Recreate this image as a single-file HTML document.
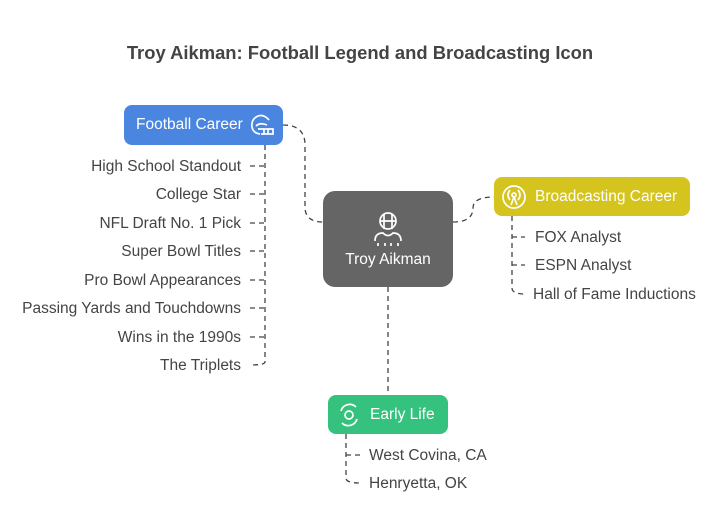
<!DOCTYPE html>
<html><head><style>
body{margin:0;width:720px;height:531px;background:#fff;font-family:"Liberation Sans",sans-serif;position:relative;overflow:hidden}
.t{position:absolute;font-size:15.5px;color:#444;white-space:nowrap;line-height:18px}
.r{text-align:right;width:300px}
.box{position:absolute;border-radius:8px;color:#fff;font-size:15.5px;display:flex;align-items:center}
</style></head><body>
<div style="position:absolute;top:42px;width:720px;text-align:center;font-weight:bold;font-size:18.4px;color:#444">Troy Aikman: Football Legend and Broadcasting Icon</div>
<svg width="720" height="531" style="position:absolute;left:0;top:0" fill="none" stroke="#444" stroke-width="1.3" stroke-dasharray="5,4">
<path d="M283 125 Q305 125 305 145 L305 207 Q305 222 323 222"/>
<path d="M453 222 Q473 222 473 208 Q473 197 494 197"/>
<path d="M388 287 L388 395"/>
<path d="M265 145 L265 362 Q265 365 250 365"/>
<path d="M250 166 H265 M250 194 H265 M250 223 H265 M250 251 H265 M250 280 H265 M250 308 H265 M250 337 H265"/>
<path d="M512 216 L512 288 Q512 294 525 294"/>
<path d="M512 237 H525 M512 265 H525"/>
<path d="M346 434 L346 478 Q346 483 360 483"/>
<path d="M346 455 H360"/>
</svg>
<div class="box" style="left:124px;top:105px;width:159px;height:40px;background:#4a86e0;"><span style="margin-left:12px">Football Career</span>
<svg width="28" height="26" style="margin-left:5px" fill="none" stroke="#fff" stroke-width="1.7"><path d="M21 8 Q16 2 10 4 Q3 7 4 15 Q5 21 12 22 M8 14 Q12 10 19 13 M10 17 H25 V22 H13"/><path d="M16 17 V22 M20 17 V22"/></svg></div>
<div class="box" style="left:323px;top:191px;width:130px;height:96px;background:#656565;border-radius:12px;flex-direction:column;justify-content:center">
<svg width="38" height="40" fill="none" stroke="#fff" stroke-width="1.7"><circle cx="19" cy="11" r="8"/><path d="M11 11 H27 M15 4 V19 M23 4 V19 M6 31 Q6 23 14 23 Q19 28 24 23 Q32 23 32 31 M9 36 V33 M16 36 V33 M22 36 V33 M29 36 V33"/></svg>
<span style="margin-top:1px">Troy Aikman</span></div>
<div class="box" style="left:494px;top:177px;width:196px;height:39px;background:#d6c41e;">
<svg width="26" height="26" style="margin-left:7px" fill="none" stroke="#fff" stroke-width="1.7"><circle cx="13" cy="13" r="11"/><circle cx="13" cy="11" r="2"/><path d="M9 6 Q5 11 9 16 M17 6 Q21 11 17 16 M13 13 L10 21 M13 13 L16 21"/></svg>
<span style="margin-left:8px">Broadcasting Career</span></div>
<div class="box" style="left:328px;top:395px;width:120px;height:39px;background:#35c27e;">
<svg width="24" height="24" style="margin-left:9px" fill="none" stroke="#fff" stroke-width="1.7"><circle cx="12" cy="12" r="4"/><path d="M4 8 A9 9 0 0 1 19 4 M20 16 A9 9 0 0 1 5 20"/></svg>
<span style="margin-left:9px">Early Life</span></div>
<div class="t r" style="left:-59px;top:158px">High School Standout</div>
<div class="t r" style="left:-59px;top:186px">College Star</div>
<div class="t r" style="left:-59px;top:215px">NFL Draft No. 1 Pick</div>
<div class="t r" style="left:-59px;top:243px">Super Bowl Titles</div>
<div class="t r" style="left:-59px;top:272px">Pro Bowl Appearances</div>
<div class="t r" style="left:-59px;top:300px">Passing Yards and Touchdowns</div>
<div class="t r" style="left:-59px;top:329px">Wins in the 1990s</div>
<div class="t r" style="left:-59px;top:357px">The Triplets</div>
<div class="t" style="left:535px;top:229px">FOX Analyst</div>
<div class="t" style="left:535px;top:257px">ESPN Analyst</div>
<div class="t" style="left:533px;top:286px">Hall of Fame Inductions</div>
<div class="t" style="left:369px;top:447px">West Covina, CA</div>
<div class="t" style="left:369px;top:475px">Henryetta, OK</div>
</body></html>
